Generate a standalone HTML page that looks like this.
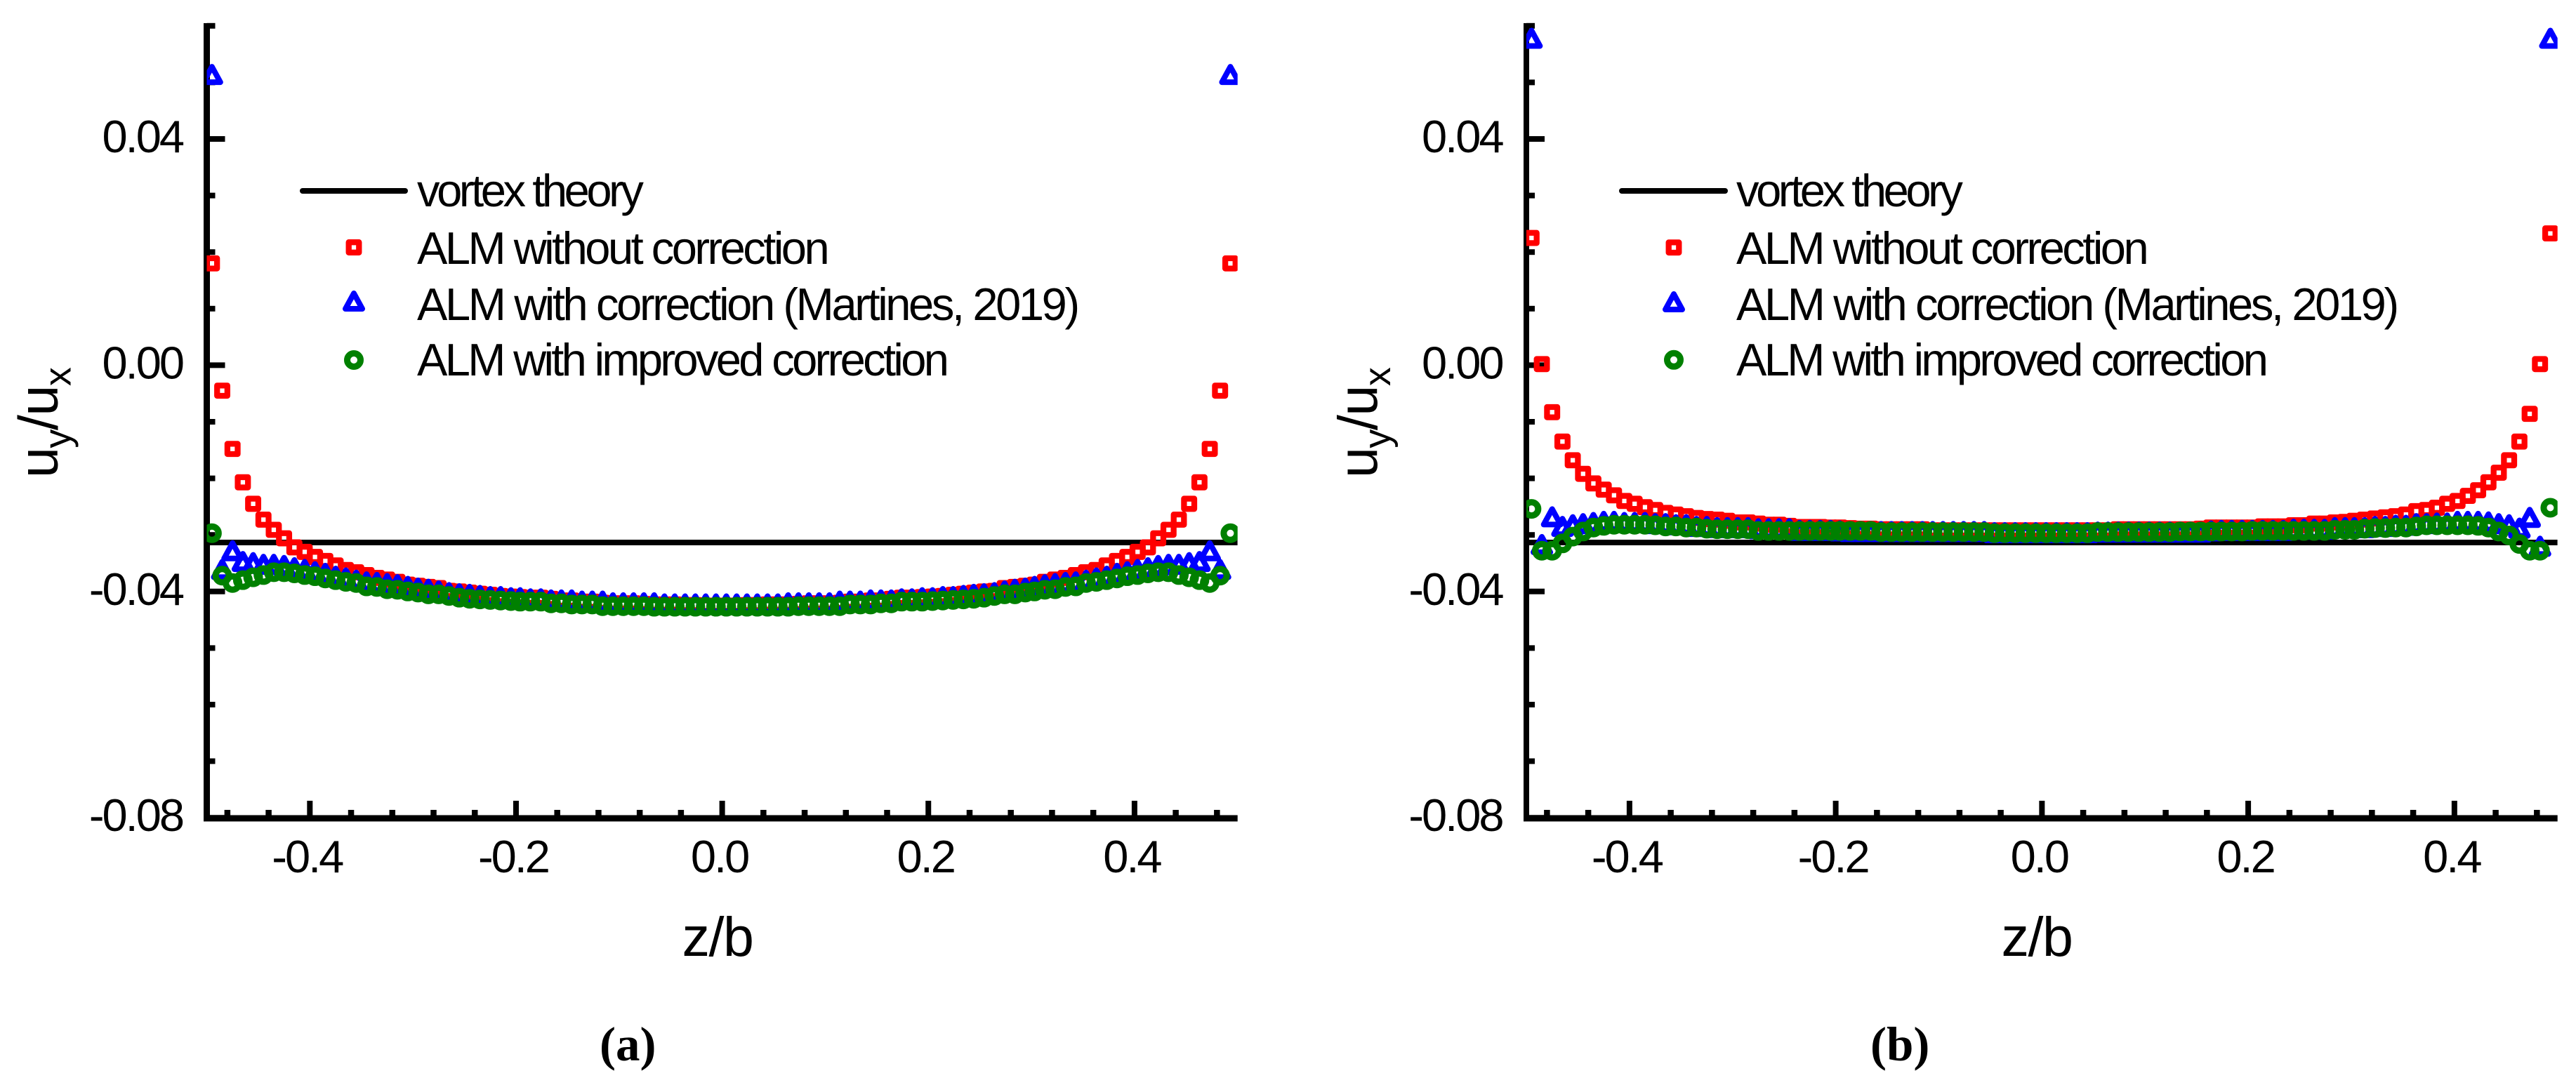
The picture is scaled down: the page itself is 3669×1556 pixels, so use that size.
<!DOCTYPE html>
<html lang="en">
<head>
<meta charset="utf-8">
<title>Spanwise velocity ratio charts</title>
<style>
html,body{margin:0;padding:0;background:#fff;}
svg{display:block;}
text{font-family:"Liberation Sans",Arial,sans-serif;fill:#000;}
.tick-label{font-size:65px;letter-spacing:-3px;}
.legend-label{font-size:65px;letter-spacing:-3.37px;}
.legend-vortex{letter-spacing:-4.4px;}
.legend-plain{letter-spacing:-3.5px;}
.legend-improved{letter-spacing:-3.64px;}
.axis-title{font-size:79px;letter-spacing:-1.5px;}
.panel-tag{font-family:"Liberation Serif",serif;font-size:69px;font-weight:bold;}
</style>
</head>
<body>
<svg id="figure" xmlns="http://www.w3.org/2000/svg" width="3669" height="1556" viewBox="0 0 3669 1556">
<rect width="3669" height="1556" fill="#fff"/>

<g id="panel-a">
  <g id="panel-a-axes"></g>
  <text class="axis-title" x="1022" y="1362" text-anchor="middle">z/b</text>
  <text class="axis-title" transform="translate(81.6,681) rotate(-90)">u<tspan dy="19" font-size="54">y</tspan><tspan dy="-19">/u</tspan><tspan dy="19" font-size="54">x</tspan></text>
  <g id="panel-a-marks"></g>
  <g>
    <line x1="431" y1="272" x2="577" y2="272" stroke="#000" stroke-width="8" stroke-linecap="round"/>
    <rect x="496.7" y="345.2" width="14.6" height="14.6" fill="none" stroke="#f00" stroke-width="8.3" stroke-linejoin="round"/>
    <path d="M504,418 L516,440 L492,440 Z" fill="none" stroke="#00f" stroke-width="8" stroke-linejoin="round"/>
    <circle cx="504" cy="513" r="9.5" fill="none" stroke="#008000" stroke-width="9"/>
    <text class="legend-label legend-vortex" x="594" y="294">vortex theory</text>
    <text class="legend-label legend-plain" x="594" y="376">ALM without correction</text>
    <text class="legend-label" x="594" y="456">ALM with correction (Martines, 2019)</text>
    <text class="legend-label legend-improved" x="594" y="535">ALM with improved correction</text>
  </g>
  <text class="panel-tag" x="854" y="1511">(a)</text>
</g>

<g id="panel-b">
  <g id="panel-b-axes"></g>
  <text class="axis-title" x="2901" y="1362" text-anchor="middle">z/b</text>
  <text class="axis-title" transform="translate(1961,681) rotate(-90)">u<tspan dy="19" font-size="54">y</tspan><tspan dy="-19">/u</tspan><tspan dy="19" font-size="54">x</tspan></text>
  <g id="panel-b-marks"></g>
  <g>
    <line x1="2310" y1="272" x2="2457" y2="272" stroke="#000" stroke-width="8" stroke-linecap="round"/>
    <rect x="2376.7" y="345.4" width="14.6" height="14.6" fill="none" stroke="#f00" stroke-width="8.3" stroke-linejoin="round"/>
    <path d="M2384,419 L2396,441 L2372,441 Z" fill="none" stroke="#00f" stroke-width="8" stroke-linejoin="round"/>
    <circle cx="2384" cy="512.8" r="9.5" fill="none" stroke="#008000" stroke-width="9"/>
    <text class="legend-label legend-vortex" x="2473" y="294">vortex theory</text>
    <text class="legend-label legend-plain" x="2473" y="376">ALM without correction</text>
    <text class="legend-label" x="2473" y="456">ALM with correction (Martines, 2019)</text>
    <text class="legend-label legend-improved" x="2473" y="535">ALM with improved correction</text>
  </g>
  <text class="panel-tag" x="2664" y="1511">(b)</text>
</g>
</svg>

<script>
var spanPositions = [
-0.495,-0.485,-0.475,-0.465,-0.455,-0.445,-0.435,-0.425,-0.415,-0.405,
-0.395,-0.385,-0.375,-0.365,-0.355,-0.345,-0.335,-0.325,-0.315,-0.305,
-0.295,-0.285,-0.275,-0.265,-0.255,-0.245,-0.235,-0.225,-0.215,-0.205,
-0.196,-0.186,-0.176,-0.166,-0.156,-0.146,-0.136,-0.126,-0.116,-0.106,
-0.096,-0.086,-0.076,-0.066,-0.056,-0.046,-0.036,-0.026,-0.016,-0.006,
0.004,0.014,0.024,0.034,0.044,0.054,0.064,0.074,0.084,0.094,
0.104,0.114,0.124,0.134,0.144,0.154,0.164,0.174,0.184,0.194,
0.204,0.214,0.224,0.234,0.244,0.254,0.264,0.274,0.284,0.294,
0.303,0.313,0.323,0.333,0.343,0.353,0.363,0.373,0.383,0.393,
0.403,0.413,0.423,0.433,0.443,0.453,0.463,0.473,0.483,0.493];

var xMajorTicks = [-0.4,-0.2,0,0.2,0.4];
var xTickLabels = ["-0.4","-0.2","0.0","0.2","0.4"];
var xMinorTicks = [-0.48,-0.44,-0.36,-0.32,-0.28,-0.24,-0.16,-0.12,-0.08,-0.04,0.04,0.08,0.12,0.16,0.24,0.28,0.32,0.36,0.44,0.48];
var yMajorTicks = [0.04,0,-0.04,-0.08];
var yTickLabels = ["0.04","0.00","-0.04","-0.08"];
var yMinorTicks = [0.06,0.05,0.03,0.02,0.01,-0.01,-0.02,-0.03,-0.05,-0.06,-0.07];
var vortexTheory = [-0.03134];

var panelAWithoutCorrection = [
0.0180,-0.0045,-0.0148,-0.0207,-0.0245,-0.0273,-0.0291,-0.0306,-0.0322,-0.0330,
-0.0339,-0.0346,-0.0354,-0.0362,-0.0366,-0.0371,-0.0376,-0.0379,-0.0383,-0.0388,
-0.0390,-0.0392,-0.0394,-0.0399,-0.0400,-0.0402,-0.0404,-0.0406,-0.0408,-0.0409,
-0.0410,-0.0411,-0.0411,-0.0413,-0.0416,-0.0416,-0.0418,-0.0418,-0.0420,-0.0421,
-0.0421,-0.0421,-0.0422,-0.0423,-0.0423,-0.0423,-0.0424,-0.0424,-0.0425,-0.0425,
-0.0425,-0.0425,-0.0424,-0.0424,-0.0423,-0.0423,-0.0423,-0.0422,-0.0421,-0.0421,
-0.0421,-0.0420,-0.0418,-0.0418,-0.0416,-0.0416,-0.0413,-0.0411,-0.0411,-0.0410,
-0.0409,-0.0408,-0.0406,-0.0404,-0.0402,-0.0400,-0.0399,-0.0394,-0.0392,-0.0390,
-0.0388,-0.0383,-0.0379,-0.0376,-0.0371,-0.0366,-0.0362,-0.0354,-0.0346,-0.0339,
-0.0330,-0.0322,-0.0306,-0.0291,-0.0273,-0.0245,-0.0207,-0.0148,-0.0045,0.0180];

var panelAMartines = [
0.0514,-0.0361,-0.0328,-0.0347,-0.0349,-0.0352,-0.0352,-0.0354,-0.0358,-0.0361,
-0.0365,-0.0368,-0.0373,-0.0376,-0.0380,-0.0383,-0.0384,-0.0386,-0.0388,-0.0391,
-0.0394,-0.0396,-0.0399,-0.0402,-0.0404,-0.0405,-0.0407,-0.0409,-0.0409,-0.0411,
-0.0411,-0.0413,-0.0413,-0.0415,-0.0415,-0.0415,-0.0417,-0.0417,-0.0417,-0.0420,
-0.0420,-0.0420,-0.0420,-0.0420,-0.0422,-0.0422,-0.0422,-0.0422,-0.0422,-0.0422,
-0.0422,-0.0422,-0.0422,-0.0422,-0.0422,-0.0422,-0.0420,-0.0420,-0.0420,-0.0420,
-0.0420,-0.0417,-0.0417,-0.0417,-0.0415,-0.0415,-0.0415,-0.0413,-0.0413,-0.0411,
-0.0411,-0.0409,-0.0409,-0.0407,-0.0405,-0.0404,-0.0402,-0.0399,-0.0396,-0.0394,
-0.0391,-0.0388,-0.0386,-0.0384,-0.0383,-0.0380,-0.0376,-0.0373,-0.0368,-0.0365,
-0.0361,-0.0358,-0.0354,-0.0352,-0.0352,-0.0349,-0.0347,-0.0328,-0.0361,0.0514];

var panelAImproved = [
-0.0297,-0.0372,-0.0385,-0.0380,-0.0375,-0.0371,-0.0366,-0.0366,-0.0368,-0.0371,
-0.0373,-0.0377,-0.0380,-0.0383,-0.0385,-0.0391,-0.0392,-0.0396,-0.0397,-0.0400,
-0.0402,-0.0405,-0.0405,-0.0408,-0.0411,-0.0413,-0.0414,-0.0415,-0.0416,-0.0417,
-0.0418,-0.0418,-0.0418,-0.0421,-0.0421,-0.0423,-0.0423,-0.0423,-0.0426,-0.0426,
-0.0426,-0.0426,-0.0426,-0.0427,-0.0427,-0.0427,-0.0427,-0.0427,-0.0427,-0.0427,
-0.0427,-0.0427,-0.0427,-0.0427,-0.0427,-0.0427,-0.0427,-0.0426,-0.0426,-0.0426,
-0.0426,-0.0426,-0.0423,-0.0423,-0.0423,-0.0421,-0.0421,-0.0418,-0.0418,-0.0418,
-0.0417,-0.0416,-0.0415,-0.0414,-0.0413,-0.0411,-0.0408,-0.0405,-0.0405,-0.0402,
-0.0400,-0.0397,-0.0396,-0.0392,-0.0391,-0.0385,-0.0383,-0.0380,-0.0377,-0.0373,
-0.0371,-0.0368,-0.0366,-0.0366,-0.0371,-0.0375,-0.0380,-0.0385,-0.0372,-0.0297];

var panelBWithoutCorrection = [
0.0225,0.0002,-0.0083,-0.0135,-0.0168,-0.0192,-0.0209,-0.0220,-0.0230,-0.0240,
-0.0245,-0.0251,-0.0256,-0.0261,-0.0264,-0.0267,-0.0270,-0.0272,-0.0273,-0.0275,
-0.0278,-0.0278,-0.0280,-0.0282,-0.0282,-0.0284,-0.0286,-0.0286,-0.0286,-0.0287,
-0.0287,-0.0288,-0.0289,-0.0289,-0.0290,-0.0290,-0.0290,-0.0290,-0.0290,-0.0292,
-0.0292,-0.0292,-0.0292,-0.0292,-0.0292,-0.0292,-0.0292,-0.0292,-0.0292,-0.0292,
-0.0292,-0.0292,-0.0292,-0.0292,-0.0292,-0.0292,-0.0292,-0.0290,-0.0290,-0.0290,
-0.0290,-0.0290,-0.0290,-0.0290,-0.0290,-0.0289,-0.0287,-0.0287,-0.0287,-0.0287,
-0.0287,-0.0285,-0.0285,-0.0285,-0.0283,-0.0283,-0.0280,-0.0280,-0.0278,-0.0277,
-0.0275,-0.0273,-0.0271,-0.0269,-0.0267,-0.0264,-0.0258,-0.0256,-0.0252,-0.0245,
-0.0240,-0.0231,-0.0221,-0.0207,-0.0190,-0.0168,-0.0135,-0.0086,0.0002,0.0233];

var panelBMartines = [
0.0578,-0.0317,-0.0268,-0.0285,-0.0282,-0.0280,-0.0278,-0.0276,-0.0276,-0.0278,
-0.0278,-0.0278,-0.0280,-0.0280,-0.0282,-0.0282,-0.0285,-0.0285,-0.0287,-0.0287,
-0.0287,-0.0287,-0.0289,-0.0289,-0.0289,-0.0289,-0.0292,-0.0292,-0.0292,-0.0292,
-0.0293,-0.0294,-0.0294,-0.0294,-0.0294,-0.0294,-0.0294,-0.0294,-0.0294,-0.0294,
-0.0294,-0.0294,-0.0294,-0.0294,-0.0294,-0.0296,-0.0296,-0.0296,-0.0296,-0.0296,
-0.0296,-0.0296,-0.0296,-0.0296,-0.0296,-0.0295,-0.0295,-0.0295,-0.0295,-0.0295,
-0.0295,-0.0295,-0.0295,-0.0295,-0.0295,-0.0295,-0.0293,-0.0292,-0.0292,-0.0292,
-0.0292,-0.0292,-0.0292,-0.0292,-0.0290,-0.0290,-0.0290,-0.0290,-0.0287,-0.0287,
-0.0287,-0.0287,-0.0285,-0.0285,-0.0283,-0.0283,-0.0280,-0.0280,-0.0279,-0.0279,
-0.0276,-0.0276,-0.0276,-0.0277,-0.0280,-0.0282,-0.0288,-0.0269,-0.0320,0.0578];

var panelBImproved = [
-0.0254,-0.0328,-0.0328,-0.0315,-0.0303,-0.0294,-0.0287,-0.0284,-0.0282,-0.0282,
-0.0282,-0.0282,-0.0283,-0.0285,-0.0285,-0.0287,-0.0287,-0.0289,-0.0290,-0.0290,
-0.0290,-0.0290,-0.0293,-0.0293,-0.0293,-0.0293,-0.0293,-0.0293,-0.0293,-0.0293,
-0.0293,-0.0293,-0.0293,-0.0293,-0.0295,-0.0295,-0.0295,-0.0295,-0.0295,-0.0295,
-0.0295,-0.0295,-0.0295,-0.0295,-0.0295,-0.0297,-0.0297,-0.0297,-0.0297,-0.0297,
-0.0297,-0.0297,-0.0297,-0.0297,-0.0297,-0.0295,-0.0295,-0.0295,-0.0295,-0.0295,
-0.0295,-0.0295,-0.0295,-0.0294,-0.0294,-0.0294,-0.0294,-0.0294,-0.0294,-0.0294,
-0.0293,-0.0293,-0.0293,-0.0293,-0.0293,-0.0293,-0.0293,-0.0293,-0.0291,-0.0291,
-0.0291,-0.0289,-0.0288,-0.0288,-0.0287,-0.0287,-0.0285,-0.0283,-0.0283,-0.0283,
-0.0283,-0.0283,-0.0284,-0.0287,-0.0294,-0.0301,-0.0316,-0.0328,-0.0328,-0.0252];

var NS = "http://www.w3.org/2000/svg";

function make(parent, tag, attrs) {
  var el = document.createElementNS(NS, tag);
  for (var k in attrs) { el.setAttribute(k, attrs[k]); }
  parent.appendChild(el);
  return el;
}

function drawPanel(id, left, right, spineWidth, redValues, blueValues, greenValues) {
  var axes = document.getElementById(id + "-axes");
  var marks = document.getElementById(id + "-marks");
  var bottom = 1166;
  var xOf = function (z) { return left + (z + 0.5) * (right - left); };
  var yOf = function (v) { return 520.4 - v * 8060; };

  var spine = make(axes, "line", {x1: left, y1: 33, x2: left, y2: bottom + 4.5, stroke: "#000", "stroke-width": spineWidth});
  
  
  var base = make(axes, "line", {x1: left - spineWidth / 2, y1: bottom, x2: right, y2: bottom, stroke: "#000", "stroke-width": 9});
  
  

  yMajorTicks.forEach(function (v, i) {
    var t = make(axes, "line", {x1: left, y1: yOf(v), x2: left + 26, y2: yOf(v), stroke: "#000", "stroke-width": 8});
    
    
    var l = make(axes, "text", {"class": "tick-label", x: left - 34.5, y: yOf(v) + 19, "text-anchor": "end"});
    
    
    l.textContent = yTickLabels[i];
  });
  yMinorTicks.forEach(function (v) {
    var t = make(axes, "line", {x1: left, y1: yOf(v), x2: left + 12, y2: yOf(v), stroke: "#000", "stroke-width": 8});
    
    
  });
  xMajorTicks.forEach(function (z, i) {
    var t = make(axes, "line", {x1: xOf(z), y1: bottom, x2: xOf(z), y2: 1141, stroke: "#000", "stroke-width": 8});
    
    
    var l = make(axes, "text", {"class": "tick-label", x: xOf(z) - 4, y: 1243, "text-anchor": "middle"});
    
    
    l.textContent = xTickLabels[i];
  });
  xMinorTicks.forEach(function (z) {
    var t = make(axes, "line", {x1: xOf(z), y1: bottom, x2: xOf(z), y2: 1154, stroke: "#000", "stroke-width": 8.5});
    
    
  });

  var clipId = id + "-clip";
  var defs = make(marks, "defs", {});
  var clip = make(defs, "clipPath", {id: clipId});
  make(clip, "rect", {x: left, y: 0, width: right - left, height: 1556});
  var plot = make(marks, "g", {"clip-path": "url(#" + clipId + ")"});

  var vortex = make(plot, "line", {x1: xOf(-0.5), y1: yOf(vortexTheory[0]), x2: xOf(0.5), y2: yOf(vortexTheory[0]), stroke: "#000", "stroke-width": 8});
  
  

  var redGroup = make(plot, "g", {fill: "none", stroke: "#f00", "stroke-width": 8.3, "stroke-linejoin": "round"});
  
  
  redValues.forEach(function (v, i) {
    var m = make(redGroup, "rect", {x: xOf(spanPositions[i]) - 7.3, y: yOf(v) - 7.3, width: 14.6, height: 14.6});
    
    
  });

  var blueGroup = make(plot, "g", {fill: "none", stroke: "#00f", "stroke-width": 8, "stroke-linejoin": "round"});
  
  
  blueValues.forEach(function (v, i) {
    var cx = xOf(spanPositions[i]);
    var cy = yOf(v);
    var m = make(blueGroup, "path", {d: "M" + cx + "," + (cy - 11) + " L" + (cx + 12) + "," + (cy + 11) + " L" + (cx - 12) + "," + (cy + 11) + " Z"});
    
    
  });

  var greenGroup = make(plot, "g", {fill: "none", stroke: "#008000", "stroke-width": 9});
  
  
  greenValues.forEach(function (v, i) {
    var m = make(greenGroup, "circle", {cx: xOf(spanPositions[i]), cy: yOf(v), r: 9.5});
    
    
  });
}

drawPanel("panel-a", 294.5, 1762.7, 9, panelAWithoutCorrection, panelAMartines, panelAImproved);
drawPanel("panel-b", 2174, 3642.7, 8, panelBWithoutCorrection, panelBMartines, panelBImproved);
</script>
</body>
</html>
